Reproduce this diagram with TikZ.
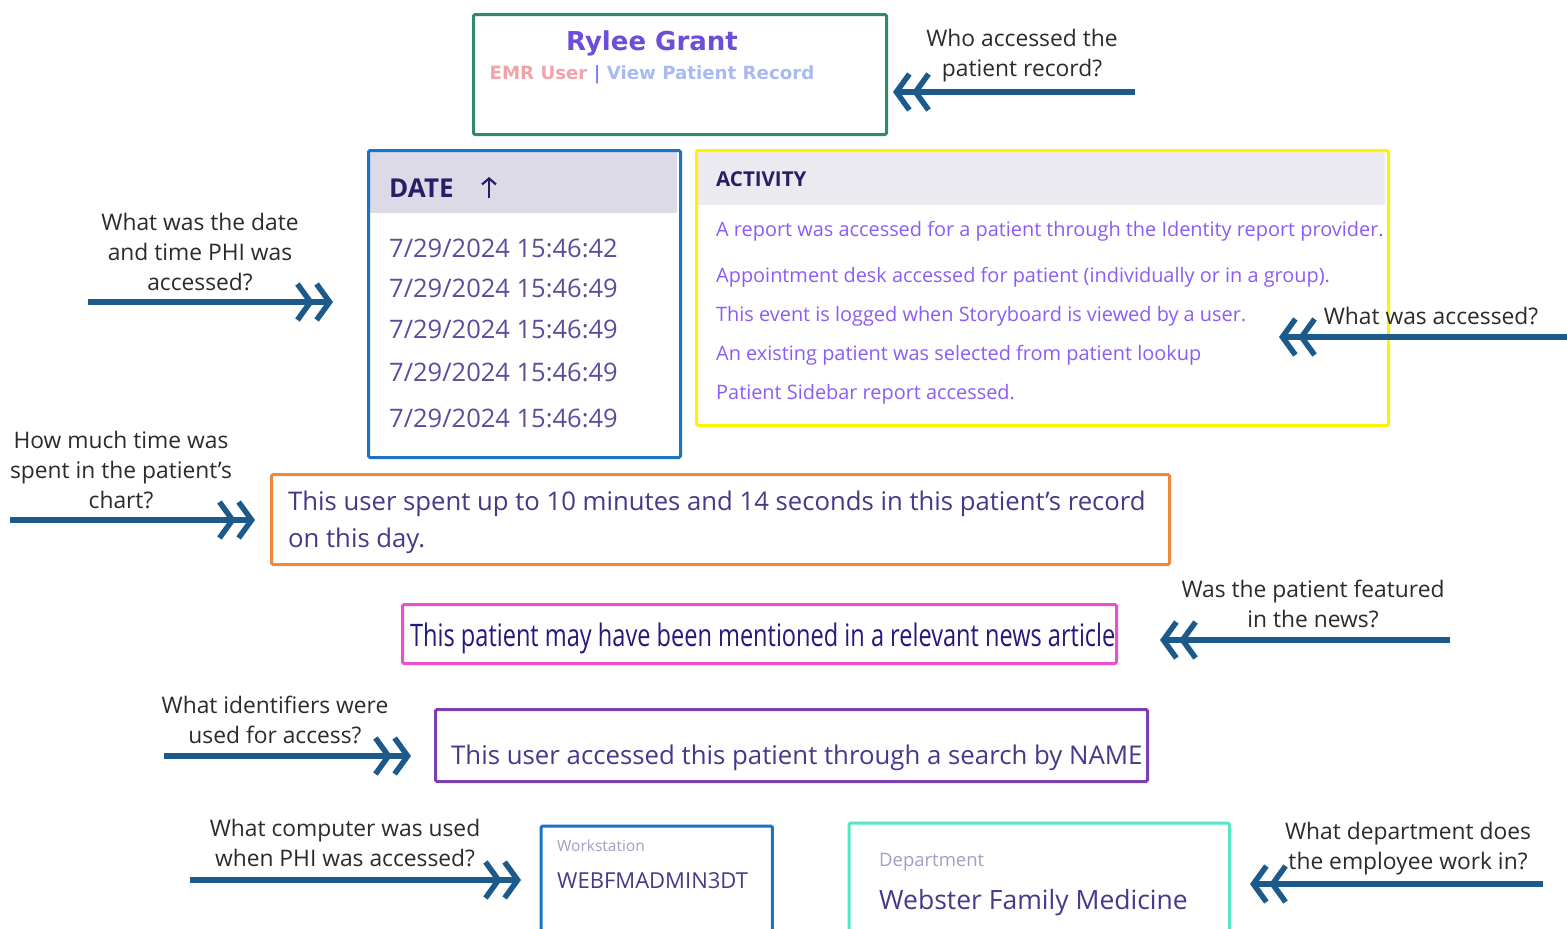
\documentclass[tikz,border=0pt]{standalone}
\usepackage{fontspec}
\setmainfont{Open Sans}
\newfontfamily\lblfont{Open Sans}
\newfontfamily\titlefont{DejaVu Sans}
\newfontfamily\condfont[FakeStretch=0.76]{Open Sans}
\usetikzlibrary{arrows.meta}
\definecolor{arrowblue}{HTML}{1D5A8C}
\definecolor{lbl}{HTML}{2B2B2B}
\definecolor{greenframe}{HTML}{2E8A6A}
\definecolor{blueframe}{HTML}{1A73C4}
\definecolor{yellowframe}{HTML}{FFF200}
\definecolor{orangeframe}{HTML}{F0883E}
\definecolor{pinkframe}{HTML}{EE4FD2}
\definecolor{purpleframe}{HTML}{7B3FB0}
\definecolor{tealframe}{HTML}{55E6C6}
\definecolor{hdrgray}{HTML}{DCDAE6}
\definecolor{hdrgraylight}{HTML}{EBEAF0}
\definecolor{datetext}{HTML}{5B4C9C}
\definecolor{hdrtext}{HTML}{2A1D66}
\definecolor{acttext}{HTML}{8B5CF6}
\definecolor{bodytext}{HTML}{47398A}
\definecolor{captext}{HTML}{A59DC6}
\definecolor{namepurple}{HTML}{6B4FD8}
\definecolor{emrpink}{HTML}{F2A3A8}
\definecolor{viewblue}{HTML}{A9B9F2}
\tikzset{
  frame/.style={draw, line width=3pt, rounded corners=1.5pt, anchor=north west, inner sep=0pt},
  qlabel/.style={font=\lblfont\fontsize{22.8}{30}\selectfont, text=lbl, align=center, inner sep=0pt},
  qarrow/.style={draw=arrowblue, line width=5.5pt,
    -{Straight Barb[length=13pt,width=36pt,line width=5.5pt] Straight Barb[length=13pt,width=36pt,line width=5.5pt]}},
  boxtext/.style={anchor=west, inner sep=0pt},
}
\begin{document}
\begin{tikzpicture}[x=1pt,y=-1pt]
\useasboundingbox[fill=white] (0,0) rectangle (1567,929);

% ---------- Rylee Grant box
\node[frame, draw=greenframe, minimum width=413pt, minimum height=120pt] (rylee) at (472,13) {};
\node[inner sep=0pt, font=\titlefont\bfseries\fontsize{26}{30}\selectfont, text=namepurple] (ryname) at (652,43) {Rylee Grant};
\node[inner sep=0pt, font=\titlefont\bfseries\fontsize{18.2}{22}\selectfont] (rysub) at (652,75)
  {\textcolor{emrpink}{EMR User} \textcolor{viewblue!70!blue}{|} \textcolor{viewblue}{View Patient Record}};

% ---------- Date box
\fill[hdrgray] (369,151) rectangle (677,213);
\node[frame, draw=blueframe, minimum width=312pt, minimum height=307pt] (datebox) at (367,149) {};
\node[boxtext, font=\bfseries\fontsize{26}{30}\selectfont, text=hdrtext] (datehdr) at (389,188) {DATE};
\draw[hdrtext, line width=2.2pt, -{Straight Barb[length=6pt,width=14pt,line width=2.2pt]}] (489,198) -- (489,177);
\foreach \y/\t [count=\i] in {248/42,288/49,329/49,372/49,418/49}
  \node[boxtext, font=\fontsize{25.5}{30}\selectfont, text=datetext] (date\i) at (389,\y) {7/29/2024 15:46:\t};

% ---------- Activity box
\fill[hdrgraylight] (697,151) rectangle (1385,205);
\node[frame, draw=yellowframe, minimum width=692pt, minimum height=275pt] (actbox) at (695,149) {};
\node[boxtext, font=\bfseries\fontsize{20.5}{24}\selectfont, text=hdrtext] (acthdr) at (716,179) {ACTIVITY};
\begin{scope}[every node/.style={boxtext, font=\fontsize{19.9}{24}\selectfont, text=acttext}]
\node (act1) at (716,231) {A report was accessed for a patient through the Identity report provider.};
\node (act2) at (716,277) {Appointment desk accessed for patient (individually or in a group).};
\node (act3) at (716,316) {This event is logged when Storyboard is viewed by a user.};
\node (act4) at (716,355) {An existing patient was selected from patient lookup};
\node (act5) at (716,394) {Patient Sidebar report accessed.};
\end{scope}

% ---------- Orange box
\node[frame, draw=orangeframe, minimum width=898pt, minimum height=90pt] (timebox) at (270,473) {};
\node[boxtext, align=left, font=\fontsize{25.7}{37}\selectfont, text=bodytext] (timetext) at (288,522)
  {This user spent up to 10 minutes and 14 seconds in this patient's record\\on this day.};

% ---------- Pink box
\node[frame, draw=pinkframe, minimum width=714pt, minimum height=59pt] (newsbox) at (401,603) {};
\node[boxtext, font=\condfont\fontsize{31}{36}\selectfont, text=hdrtext!85!blue] (newstext) at (410,638)
  {This patient may have been mentioned in a relevant news article};

% ---------- Purple box
\node[frame, draw=purpleframe, minimum width=712pt, minimum height=72pt] (idbox) at (434,708) {};
\node[boxtext, font=\fontsize{25.8}{30}\selectfont, text=bodytext] (idtext) at (451,758)
  {This user accessed this patient through a search by NAME};

% ---------- Workstation box (open at bottom)
\node[anchor=north west, minimum width=231pt, minimum height=103pt, inner sep=0pt] (wsbox) at (541,826) {};
\draw[blueframe, line width=3pt, rounded corners=1.5pt] (wsbox.south west) -- (wsbox.north west) -- (wsbox.north east) -- (wsbox.south east);
\node[boxtext, font=\fontsize{15.5}{18}\selectfont, text=captext] (wscap) at (557,846) {Workstation};
\node[boxtext, font=\fontsize{22}{26}\selectfont, text=bodytext] (wsname) at (557,881) {WEBFMADMIN3DT};

% ---------- Department box (open at bottom)
\node[anchor=north west, minimum width=380pt, minimum height=106pt, inner sep=0pt] (depbox) at (849,823) {};
\draw[tealframe, line width=3pt, rounded corners=1.5pt] (depbox.south west) -- (depbox.north west) -- (depbox.north east) -- (depbox.south east);
\node[boxtext, font=\fontsize{18.5}{22}\selectfont, text=captext] (depcap) at (879,862) {Department};
\node[boxtext, font=\fontsize{26.5}{32}\selectfont, text=bodytext] (depname) at (879,903) {Webster Family Medicine};

% ---------- Question labels
\node[qlabel] (q1) at (1022,56) {Who accessed the\\patient record?};
\node[qlabel] (q2) at (200,252) {What was the date\\and time PHI was\\accessed?};
\node[qlabel] (q3) at (1431,316) {What was accessed?};
\node[qlabel] (q4) at (121,470) {How much time was\\spent in the patient’s\\chart?};
\node[qlabel] (q5) at (1313,604) {Was the patient featured\\in the news?};
\node[qlabel] (q6) at (275,720) {What identifiers were\\used for access?};
\node[qlabel] (q7) at (345,843) {What computer was used\\when PHI was accessed?};
\node[qlabel] (q8) at (1408,849) {What department does\\the employee work in?};

% ---------- Arrows
\coordinate (a1t) at (1135,92);  \coordinate (a1h) at (893,92);
\coordinate (a2t) at (88,302);   \coordinate (a2h) at (333,302);
\coordinate (a3t) at (1567,337); \coordinate (a3h) at (1279,337);
\coordinate (a4t) at (10,520);   \coordinate (a4h) at (255,520);
\coordinate (a5t) at (1450,640); \coordinate (a5h) at (1160,640);
\coordinate (a6t) at (164,756);  \coordinate (a6h) at (411,756);
\coordinate (a7t) at (190,880);  \coordinate (a7h) at (521,880);
\coordinate (a8t) at (1543,884); \coordinate (a8h) at (1250,884);
\foreach \i in {1,...,8} \draw[qarrow] (a\i t) -- (a\i h);
\end{tikzpicture}
\end{document}
